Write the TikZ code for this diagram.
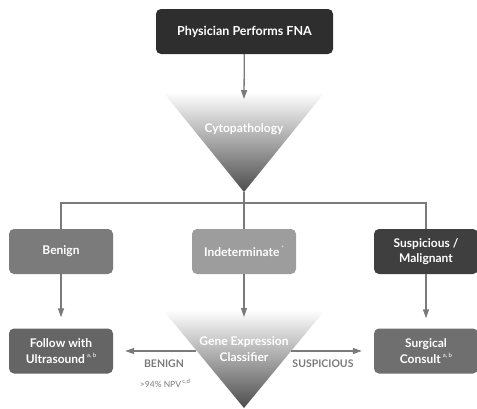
\documentclass[tikz,border=0pt]{standalone}
\usepackage{fontspec}
\setmainfont{Lato}
\usetikzlibrary{arrows.meta}

\definecolor{fnagray}{HTML}{2E2E2E}
\definecolor{benigngray}{HTML}{7B7B7B}
\definecolor{indetgray}{HTML}{9D9D9D}
\definecolor{maliggray}{HTML}{3F3F3F}
\definecolor{followgray}{HTML}{656565}
\definecolor{surggray}{HTML}{6F6F6F}
\definecolor{linegray}{HTML}{7A7A7A}

\newcommand{\supnote}[1]{\,\raisebox{0.5em}{\mdseries\fontsize{6}{6}\selectfont #1}}

\begin{document}
\begin{tikzpicture}[x=1pt, y=-1pt,
  font=\bfseries\fontsize{12}{15.5}\selectfont,
  box/.style={rounded corners=5pt, minimum width=104pt, minimum height=45pt,
              align=center, inner sep=2pt, text=white},
  tri/.style={top color=white, bottom color=black!70},
  tritext/.style={text=white, align=center},
  link/.style={draw=linegray, line width=1.3pt},
  arr/.style={link, -{Triangle[length=9pt, width=6pt]}},
  verdict/.style={text=linegray, font=\bfseries\fontsize{10.5}{12}\selectfont}
]
\useasboundingbox (0,0) rectangle (477,408);

% top of the flow
\node[box, fill=fnagray, minimum width=177pt, font=\bfseries\fontsize{12.5}{15}\selectfont]
  (fna) at (244.5,31.5) {Physician Performs FNA};

\coordinate (cyto-in) at (244,99);
\coordinate (cyto-tip) at (244,192);
\shade[tri] (163,92) -- (325,92) -- (cyto-tip) -- cycle;
\node[tritext] (cyto) at (244,129) {Cytopathology};
\draw[arr] (fna) -- (cyto-in);

% cytology results
\node[box, fill=benigngray] (benign) at (61,251.5) {Benign};
\node[box, fill=indetgray] (indet) at (244,251.5) {Indeterminate\supnote{*}};
\node[box, fill=maliggray] (malig) at (426,251.5) {Suspicious /\\Malignant};

\coordinate (split) at (244,203);
\draw[link] (cyto-tip) -- (split);
\draw[link] (benign.north) |- (split) -| (malig.north);
\draw[link] (split) -- (indet.north);

% management
\node[box, fill=followgray] (follow) at (61,351) {Follow with\\Ultrasound\supnote{a, b}};
\node[box, fill=surggray] (surgical) at (426,351) {Surgical\\Consult\supnote{a, b}};

\coordinate (gene-in) at (244,317);
\coordinate (gene-tip) at (244,408);
\shade[tri] (163,310) -- (325,310) -- (gene-tip) -- cycle;
\node[tritext] (gene) at (244,349) {Gene Expression\\Classifier};

\coordinate (gene-l) at (196,351);
\coordinate (gene-r) at (291,351);

\draw[arr] (indet) -- (gene-in);
\draw[arr, shorten >=11pt] (benign) -- (follow);
\draw[arr, shorten >=10pt] (malig) -- (surgical);
\draw[arr, shorten >=12pt] (gene-l) -- (follow);
\draw[arr, shorten >=12pt] (gene-r) -- (surgical);

\node[verdict] (v-benign) at (164,364) {BENIGN};
\node[text=linegray, font=\fontsize{8.5}{9}\selectfont] (npv) at (165,383) {>94\% NPV\supnote{c,d}};
\node[verdict] (v-susp) at (323,364) {SUSPICIOUS};
\end{tikzpicture}
\end{document}
